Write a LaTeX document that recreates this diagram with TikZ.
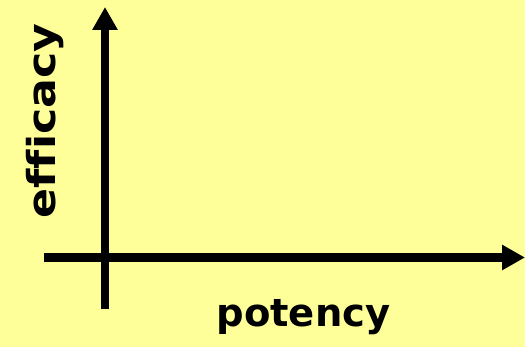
\documentclass[tikz,border=0pt]{standalone}
\usepackage{fontspec}
\setmainfont[Ligatures=NoCommon]{DejaVu Sans}
\usetikzlibrary{arrows.meta}
\definecolor{bgyellow}{HTML}{FFFF99}
\tikzset{
  axis/.style={line width=8.5pt, line cap=butt, -{Triangle[length=23pt,width=24pt]}},
  axlabel/.style={font=\fontsize{38.5}{42}\selectfont\bfseries, inner sep=0pt}
}
\begin{document}
\begin{tikzpicture}[x=1pt,y=1pt]
  \fill[bgyellow] (0,0) rectangle (525,-347);
  \useasboundingbox (0,0) rectangle (525,-347);
  \coordinate (ybot) at (105,-309);
  \coordinate (ytop) at (105,-7);
  \coordinate (xleft) at (44,-257.5);
  \coordinate (xright) at (525,-257.5);
  \draw[axis] (ybot) -- (ytop);
  \draw[axis] (xleft) -- (xright);
  \node[axlabel, rotate=90] (eff) at (45,-121) {\scalebox{1.15}[1]{efficacy}};
  \node[axlabel, anchor=base] (pot) at (303.5,-327) {potency};
\end{tikzpicture}
\end{document}
